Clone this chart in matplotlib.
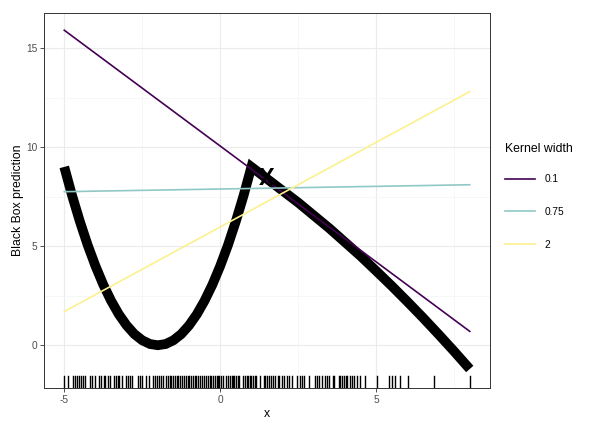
import matplotlib.pyplot as plt
from matplotlib.lines import Line2D

plt.rcParams['font.family'] = ['Liberation Sans', 'DejaVu Sans']
plt.rcParams['axes.unicode_minus'] = False

# black box curve
bb_x = [-5, -4.75, -4.5, -4.25, -4, -3.75, -3.5, -3.25, -3, -2.75, -2.5, -2.25, -2,
        -1.75, -1.5, -1.25, -1, -0.75, -0.5, -0.25, 0, 0.25, 0.5, 0.75, 1,
        1.5, 2, 2.5, 3, 3.5, 4, 4.5, 5, 5.5, 6, 6.5, 7, 7.5, 8]
bb_y = [9, 7.56, 6.25, 5.06, 4, 3.06, 2.25, 1.56, 1, 0.56, 0.25, 0.06, 0,
        0.06, 0.25, 0.56, 1, 1.56, 2.25, 3.06, 4, 5.06, 6.25, 7.56, 9,
        8.4, 7.8, 7.2, 6.55, 5.9, 5.2, 4.5, 3.75, 2.99, 2.2, 1.39, 0.55, -0.31, -1.2]

# local surrogate lines (start / end values at x = -5 and x = 8)
kernel_widths = ["0.1", "0.75", "2"]
line_x = [-5, 8]
line_y = {"0.1": [15.9, 0.7], "0.75": [7.75, 8.1], "2": [1.7, 12.8]}
line_colors = {"0.1": "#440154", "0.75": "#90c8c5", "2": "#fdf08f"}

# point of interest
poi_x, poi_y = 1.5, 8.4

# rug positions of sampled x
rug_x = [-5.0, -4.89, -4.71, -4.65, -4.58, -4.52, -4.45, -4.39, -4.32, -4.16, -4.1, -4.0,
         -3.9, -3.81, -3.74, -3.68, -3.61, -3.52, -3.42, -3.35, -3.29, -3.23, -3.16,
         -3.03, -2.97, -2.9, -2.84, -2.65, -2.58, -2.52, -2.39, -2.29,
         -2.16, -2.1, -2.03, -1.97, -1.9, -1.84, -1.74, -1.68, -1.62, -1.58,
         -1.52, -1.46, -1.4, -1.34, -1.28, -1.22, -1.16, -1.1, -1.04, -1.0,
         -0.94, -0.88, -0.82, -0.77, -0.71, -0.65, -0.58, -0.52, -0.45, -0.39, -0.33, -0.29,
         -0.23, -0.17, -0.11, -0.06, -0.03, 0.03, 0.1, 0.19, 0.25, 0.31, 0.37, 0.42,
         0.45, 0.51, 0.56, 0.61, 0.74, 0.8, 0.86, 0.9, 0.94, 1.0, 1.06, 1.1, 1.16, 1.26,
         1.39, 1.45, 1.51, 1.58, 1.64, 1.7, 1.77, 1.84, 1.9, 1.97, 2.06, 2.13, 2.19, 2.29,
         2.45, 2.55, 2.61, 2.68, 2.84, 3.03, 3.1, 3.16, 3.26, 3.35, 3.42, 3.48,
         3.6, 3.65, 3.8, 3.85, 3.9, 3.97, 4.02, 4.07, 4.16, 4.23,
         4.29, 4.39, 4.48, 4.65, 5.03, 5.42, 5.52, 5.61, 5.77, 6.03, 6.87, 8.0]

fig = plt.figure(figsize=(6, 4.25), dpi=100)
ax = fig.add_axes([0.0733, 0.087, 0.7434, 0.882])

ax.set_xlim(-5.65, 8.65)
ax.set_ylim(-2.16, 16.76)

# theme_bw style grid
ax.set_xticks([-5, 0, 5])
ax.set_yticks([0, 5, 10, 15])
ax.set_xticks([-2.5, 2.5, 7.5], minor=True)
ax.set_yticks([2.5, 7.5, 12.5], minor=True)
ax.grid(True, which='major', color='#ebebeb', linewidth=0.8, zorder=0)
ax.grid(True, which='minor', color='#f4f4f4', linewidth=0.5, zorder=0)
ax.tick_params(which='minor', length=0)
ax.tick_params(which='major', length=3, width=0.6, color='#333333',
               labelsize=7.3, labelcolor='#4d4d4d', pad=2)
ax.set_axisbelow(True)
for s in ax.spines.values():
    s.set_color('#333333')
    s.set_linewidth(0.7)

ax.plot(bb_x, bb_y, color='black', linewidth=7, solid_joinstyle='miter',
        solid_capstyle='butt', zorder=3)

for kw in kernel_widths:
    ax.plot(line_x, line_y[kw], color=line_colors[kw], linewidth=1.2, zorder=4)

ax.text(poi_x, poi_y, "X", fontsize=17, fontweight='bold', ha='center', va='center',
        color='black', zorder=5)

for rx in rug_x:
    ax.axvline(rx, ymin=0, ymax=0.033, color='black', linewidth=1.0, zorder=3)

ax.set_xlabel("x", fontsize=8.8, labelpad=2)
ax.set_ylabel("Black Box prediction", fontsize=8.8, labelpad=1)

handles = [Line2D([0], [0], color=line_colors[kw], linewidth=1.2) for kw in kernel_widths]
leg = fig.legend(handles, kernel_widths, title="Kernel width", loc='upper left',
                 bbox_to_anchor=(0.835, 0.672), frameon=False, fontsize=7.3,
                 title_fontsize=8.8, handlelength=3.0, handletextpad=0.9,
                 labelspacing=2.25, borderaxespad=0)
leg._legend_box.align = "left"
leg._legend_box.sep = 13.5

fig.savefig("out.png", dpi=100)
